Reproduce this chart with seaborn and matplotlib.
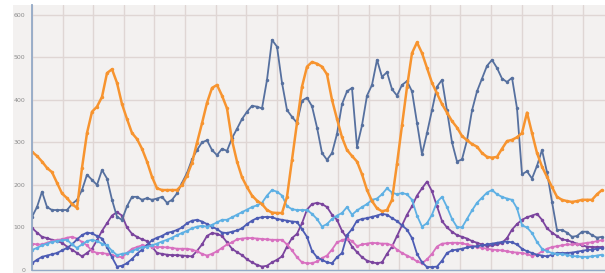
import numpy as np
import pandas as pd
import seaborn as sb
import matplotlib.pyplot as plt
from matplotlib.patches import Rectangle

# values, one sample every ~5 px
orange = [278, 268, 255, 240, 230, 205, 180, 169, 155, 146, 240, 322, 372, 384, 407, 463, 472, 440, 390, 355,
          322, 308, 285, 255, 219, 192, 188, 188, 188, 188, 200, 222, 252, 299, 345, 393, 428, 435, 410, 380,
          305, 255, 218, 195, 175, 163, 155, 141, 135, 134, 134, 172, 259, 346, 431, 478, 489, 485, 478, 460,
          400, 355, 312, 282, 268, 255, 225, 188, 162, 145, 138, 141, 165, 250, 340, 430, 510, 535, 510, 475,
          440, 415, 390, 370, 350, 335, 315, 305, 296, 290, 275, 266, 264, 266, 285, 303, 306, 312, 322, 370,
          322, 275, 243, 219, 195, 172, 165, 162, 160, 162, 165, 165, 165, 178, 188]
slate = [125, 148, 184, 148, 141, 141, 141, 141, 155, 165, 188, 224, 212, 200, 235, 215, 165, 125, 118, 150,
         172, 172, 165, 169, 165, 168, 172, 158, 165, 180, 205, 228, 260, 282, 300, 305, 282, 270, 285, 280,
         310, 332, 355, 372, 386, 384, 380, 447, 541, 525, 440, 376, 360, 346, 398, 405, 385, 335, 275, 259,
         275, 320, 390, 420, 428, 290, 340, 410, 435, 494, 454, 465, 425, 410, 435, 444, 420, 346, 272, 322,
         376, 431, 447, 375, 300, 255, 260, 305, 375, 420, 450, 480, 494, 475, 450, 442, 452, 380, 225, 232,
         215, 245, 282, 230, 160, 94, 94, 88, 78, 80, 90, 90, 82, 76, 78]
light_blue = [47, 52, 58, 62, 66, 68, 70, 71, 60, 52, 60, 68, 71, 68, 62, 58, 45, 35, 38, 40,
              44, 50, 53, 55, 58, 62, 67, 71, 76, 82, 87, 92, 98, 102, 104, 102, 106, 112, 118, 118,
              124, 130, 136, 142, 148, 152, 158, 175, 188, 184, 175, 150, 143, 141, 141, 141, 132, 120, 102, 108,
              120, 128, 134, 148, 130, 140, 148, 155, 165, 168, 178, 192, 182, 178, 181, 178, 165, 128, 102, 110,
              130, 160, 172, 148, 120, 101, 100, 120, 140, 158, 170, 182, 188, 178, 172, 168, 165, 145, 105, 100,
              87, 66, 50, 44, 40, 38, 37, 36, 33, 32, 31, 31, 32, 34, 36]
royal = [16, 24, 31, 34, 37, 40, 46, 52, 60, 72, 82, 88, 86, 80, 74, 54, 30, 8, 10, 16,
         26, 38, 48, 59, 70, 76, 80, 87, 90, 94, 100, 110, 116, 118, 114, 108, 102, 96, 88, 87,
         90, 93, 98, 108, 116, 122, 124, 125, 124, 120, 118, 116, 114, 113, 96, 78, 45, 30, 24, 18,
         16, 30, 40, 82, 96, 116, 120, 122, 125, 128, 132, 130, 122, 115, 105, 95, 75, 38, 18, 7,
         7, 8, 22, 40, 46, 48, 50, 53, 55, 56, 58, 60, 62, 64, 66, 67, 65, 60, 50, 44,
         40, 36, 34, 32, 36, 40, 40, 40, 41, 43, 45, 47, 48, 50, 52]
purple = [99, 88, 78, 75, 71, 68, 64, 55, 48, 40, 32, 40, 50, 70, 92, 110, 128, 136, 128, 100,
          85, 78, 72, 68, 55, 40, 38, 36, 35, 35, 34, 33, 32, 45, 60, 80, 87, 85, 80, 65,
          50, 42, 35, 25, 18, 12, 8, 10, 18, 24, 32, 55, 75, 85, 110, 142, 155, 158, 155, 148,
          130, 118, 92, 75, 55, 42, 30, 22, 18, 16, 18, 38, 55, 80, 105, 130, 150, 175, 192, 208,
          185, 150, 115, 100, 90, 82, 78, 74, 68, 64, 60, 56, 58, 60, 64, 75, 95, 108, 118, 124,
          128, 132, 118, 98, 88, 80, 72, 70, 66, 62, 58, 55, 54, 54, 54]
pink = [62, 60, 60, 64, 68, 71, 72, 76, 78, 74, 66, 58, 45, 40, 40, 38, 35, 32, 30, 40,
        50, 54, 58, 57, 55, 54, 54, 53, 52, 50, 50, 50, 48, 44, 38, 34, 38, 44, 52, 60,
        65, 72, 74, 75, 75, 74, 73, 72, 71, 71, 71, 60, 46, 30, 18, 16, 16, 20, 28, 34,
        48, 65, 70, 74, 68, 56, 60, 62, 64, 63, 62, 62, 58, 48, 40, 34, 28, 20, 16, 25,
        38, 55, 62, 63, 64, 64, 63, 60, 57, 54, 52, 50, 48, 47, 46, 44, 42, 41, 40, 38,
        33, 36, 44, 50, 54, 56, 58, 60, 60, 61, 62, 64, 65, 68, 70]

series = {'purple': purple, 'pink': pink, 'royal': royal,
          'light_blue': light_blue, 'slate': slate, 'orange': orange}
colors = {'purple': '#7b449e', 'pink': '#d870c0', 'royal': '#4d5cb4',
          'light_blue': '#5eb0e4', 'slate': '#56709f', 'orange': '#f7942f'}
y_ticks = [0, 100, 200, 300, 400, 500, 600]

frames = []
for name, vals in series.items():
    frames.append(pd.DataFrame({'t': np.arange(len(vals)), 'value': vals, 'series': name}))
df = pd.concat(frames, ignore_index=True)

sb.set_style('whitegrid', {'axes.facecolor': '#f3f1f0', 'grid.color': '#dfd6d4'})

W, H = 605, 273
fig = plt.figure(figsize=(W / 100, H / 100), dpi=100)
# grey panel behind the tick labels, white strip on top / left
fig.patches.append(Rectangle((13 / W, 0), 1, (H - 5) / H, transform=fig.transFigure,
                             facecolor='#f3f1f0', edgecolor='none', zorder=-5))
ax = fig.add_axes([32 / W, 3 / H, (W - 32) / W, 265 / H])

for name in series:
    sub = df[df['series'] == name]
    sb.lineplot(data=sub, x='t', y='value', color=colors[name], ax=ax,
                linewidth=1.8 if name == 'orange' else 1.3,
                marker='o', markersize=2.5, markeredgewidth=0, legend=False)

n = len(orange)
ax.set_xlim(0, (W - 32) / 5)
ax.set_ylim(0, 623)
ax.set_xticks(np.arange(0, n, 6.12))
ax.set_yticks(y_ticks)
ax.set_xticklabels([])
ax.set_yticklabels([str(v) for v in y_ticks], fontsize=4.5, color='#8c8c8c')
ax.tick_params(axis='both', length=0, pad=5)
ax.set_xlabel('')
ax.set_ylabel('')
ax.grid(True, linewidth=1.0)

for side in ['top', 'right']:
    ax.spines[side].set_visible(False)
ax.spines['left'].set_color('#93a9c6')
ax.spines['left'].set_linewidth(1.3)
ax.spines['bottom'].set_color('#93a9c6')
ax.spines['bottom'].set_linewidth(1.0)

plt.savefig('out.png', dpi=100)
plt.close()
